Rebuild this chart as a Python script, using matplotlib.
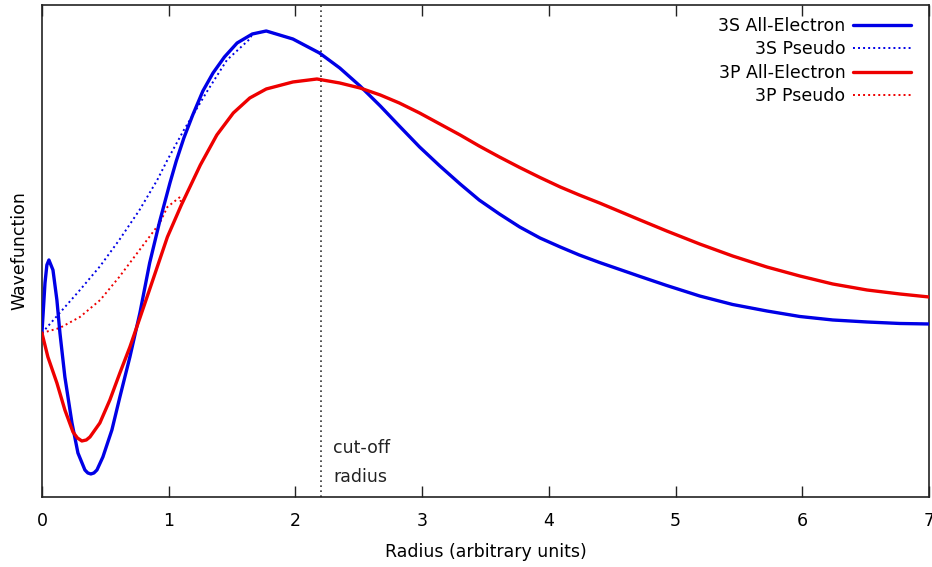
"""
Radial wavefunctions: all-electron vs pseudo (3S and 3P).
"""

import numpy as np
import matplotlib.pyplot as plt

# 3S all-electron
s_ae_r = [0.0, 0.024, 0.039, 0.055, 0.087, 0.118, 0.142, 0.181, 0.237, 0.284,
          0.339, 0.362, 0.386, 0.41, 0.434, 0.481, 0.552, 0.615, 0.694, 0.773,
          0.85, 0.93, 1.01, 1.06, 1.12, 1.19, 1.27, 1.35, 1.44, 1.54,
          1.66, 1.77, 1.98, 2.19, 2.35, 2.51, 2.67, 2.82, 2.98, 3.14,
          3.30, 3.45, 3.61, 3.77, 3.93, 4.09, 4.24, 4.40, 4.56, 4.72,
          4.93, 5.19, 5.45, 5.72, 5.98, 6.24, 6.51, 6.77, 7.0]
s_ae_psi = [0.0, 0.50, 0.68, 0.73, 0.63, 0.33, 0.00, -0.44, -0.90, -1.20,
            -1.37, -1.40, -1.41, -1.40, -1.37, -1.24, -0.97, -0.64, -0.24, 0.20,
            0.70, 1.12, 1.50, 1.72, 1.95, 2.18, 2.42, 2.60, 2.76, 2.90,
            2.99, 3.02, 2.94, 2.80, 2.65, 2.47, 2.27, 2.07, 1.86, 1.67,
            1.49, 1.33, 1.19, 1.06, 0.95, 0.86, 0.78, 0.705, 0.635, 0.565,
            0.475, 0.37, 0.285, 0.22, 0.165, 0.13, 0.11, 0.095, 0.09]

# 3S pseudo, inside the core region
s_ps_r = [0.0, 0.14, 0.30, 0.46, 0.61, 0.77, 0.91, 0.99, 1.12, 1.31,
          1.46, 1.64]
s_ps_psi = [0.0, 0.20, 0.43, 0.67, 0.93, 1.23, 1.53, 1.73, 2.03, 2.43,
            2.73, 2.94]

# 3P all-electron
p_ae_r = [0.0, 0.047, 0.118, 0.181, 0.245, 0.28, 0.315, 0.35, 0.379, 0.457,
          0.536, 0.615, 0.694, 0.773, 0.875, 0.99, 1.10, 1.19, 1.25, 1.38,
          1.51, 1.64, 1.77, 1.98, 2.17, 2.35, 2.51, 2.67, 2.82, 2.98,
          3.14, 3.30, 3.45, 3.61, 3.77, 3.93, 4.09, 4.24, 4.40, 4.56,
          4.72, 4.93, 5.19, 5.45, 5.72, 5.98, 6.24, 6.51, 6.77, 7.0]
p_ae_psi = [0.0, -0.24, -0.50, -0.77, -0.99, -1.05, -1.08, -1.07, -1.04, -0.90,
            -0.67, -0.40, -0.14, 0.15, 0.53, 0.96, 1.28, 1.52, 1.68, 1.98,
            2.20, 2.35, 2.44, 2.51, 2.54, 2.50, 2.45, 2.38, 2.30, 2.20,
            2.09, 1.98, 1.87, 1.76, 1.655, 1.555, 1.46, 1.38, 1.30, 1.215,
            1.13, 1.02, 0.89, 0.77, 0.66, 0.57, 0.49, 0.43, 0.39, 0.36]

# 3P pseudo, inside the core region
p_ps_r = [0.0, 0.14, 0.30, 0.46, 0.61, 0.77, 0.93, 0.99, 1.09]
p_ps_psi = [0.0, 0.05, 0.16, 0.33, 0.56, 0.83, 1.10, 1.26, 1.36]

r_cut = 2.2
xticks = [0, 1, 2, 3, 4, 5, 6, 7]


def join_tail(r_in, psi_in, r_ae, psi_ae):
    """Pseudo function follows the all-electron one past its last point."""
    r_ae = np.asarray(r_ae)
    mask = r_ae > r_in[-1]
    return (np.concatenate([r_in, r_ae[mask]]),
            np.concatenate([psi_in, np.asarray(psi_ae)[mask]]))


def main():
    blue = "#0000e6"
    red = "#ee0000"
    fs = 12.5

    fig = plt.figure(figsize=(9.32, 5.67), dpi=100)
    ax = fig.add_axes([0.045, 0.1235, 0.9518, 0.8677])

    sr, spsi = join_tail(s_ps_r, s_ps_psi, s_ae_r, s_ae_psi)
    pr, ppsi = join_tail(p_ps_r, p_ps_psi, p_ae_r, p_ae_psi)

    line_kw = dict(lw=2.4, zorder=4, solid_joinstyle="round",
                   solid_capstyle="round")
    dot_kw = dict(lw=1.4, ls=(0, (1, 1.6)), zorder=3)

    ax.plot(s_ae_r, s_ae_psi, color=blue, label="3S All-Electron", **line_kw)
    ax.plot(sr, spsi, color=blue, label="3S Pseudo", **dot_kw)
    ax.plot(p_ae_r, p_ae_psi, color=red, label="3P All-Electron", **line_kw)
    ax.plot(pr, ppsi, color=red, label="3P Pseudo", **dot_kw)

    ax.axvline(r_cut, color="#333333", lw=1.2, ls=(0, (1, 2)), zorder=2)
    ax.text(r_cut + 0.1, -1.15, "cut-off", fontsize=fs, color="#222222",
            va="center", ha="left")
    ax.text(r_cut + 0.1, -1.44, "radius", fontsize=fs, color="#222222",
            va="center", ha="left")

    ax.set_xlim(0, 7)
    ax.set_ylim(-1.64, 3.28)
    ax.set_xticks(xticks)
    ax.set_yticks([])
    ax.tick_params(axis="x", direction="in", length=8, width=1,
                   top=True, pad=11, labelsize=fs, color="#222222")
    for sp in ax.spines.values():
        sp.set_linewidth(1.2)
        sp.set_color("#222222")

    ax.set_xlabel("Radius (arbitrary units)", fontsize=fs, labelpad=9)
    ax.set_ylabel("Wavefunction", fontsize=fs, labelpad=10)

    ax.legend(loc="upper right", bbox_to_anchor=(1.0, 1.013), frameon=False,
              markerfirst=False, fontsize=fs, handlelength=3.3,
              handletextpad=0.46, labelspacing=0.32, borderaxespad=0.65)

    fig.savefig("out.png", dpi=100)


if __name__ == "__main__":
    main()
